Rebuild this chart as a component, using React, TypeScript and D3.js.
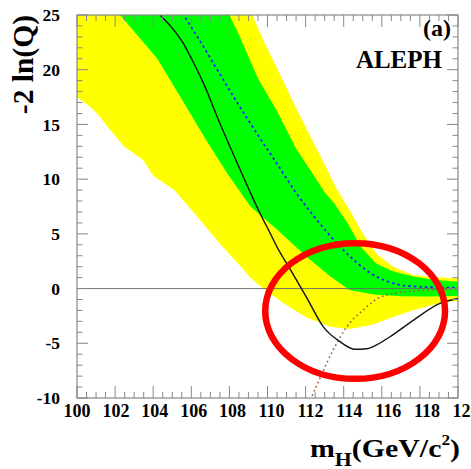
import React from 'react';
import * as d3 from 'd3';

// -2 ln(Q) versus the Higgs mass (a).
// Each series is a list of [mH, -2lnQ] points.
const observed: [number, number][] = [
  [103.5, 26.7], [104.36, 25], [105.0, 23.8], [105.58, 22.4], [106.1, 20.7],
  [106.63, 18.8], [107.5, 15.1], [108.4, 11.5], [109.25, 8.2], [109.6, 6.9],
  [110.13, 5.1], [110.5, 3.8], [111.18, 1.8], [112.05, -0.8], [112.93, -3.5],
  [113.8, -4.85], [114.6, -5.55], [115.2, -5.5], [115.55, -5.3], [116.43, -4.4],
  [117.65, -2.9], [119.05, -1.35], [120, -0.9],
];

const bkgMedian: [number, number][] = [
  [104.5, 28.2], [105.6, 25], [106.5, 22.5], [107.5, 19.6], [108.3, 17.3],
  [109.1, 15.1], [110.5, 11.4], [111.6, 8.5], [112.4, 6.7], [113.2, 5.0],
  [114.0, 3.5], [114.8, 2.2], [115.5, 1.3], [116.3, 0.65], [117.3, 0.25],
  [118.7, 0.12], [120, 0.08],
];

const sigMedian: [number, number][] = [
  [112.1, -11], [112.3, -10], [112.75, -8.2], [113.45, -5.6], [114.16, -3.5],
  [115.03, -1.95], [115.9, -0.8], [117.3, -0.28], [118.7, -0.13], [120, -0.05],
];

// +-1 sigma band (green)
const band1Hi: [number, number][] = [
  [100, 50], [104, 37.5], [108.0, 25], [108.5, 23.2], [109.5, 19.2], [110.5, 16.2],
  [111.5, 12.8], [112.4, 10.4], [113.0, 8.8], [113.45, 7.9], [114.2, 6.0],
  [114.9, 3.8], [115.7, 2.3], [116.6, 1.55], [117.65, 1.1], [118.7, 0.8], [120, 0.63],
];
const band1Lo: [number, number][] = [
  [100, 30], [102.26, 25], [104.2, 21.05], [105.5, 17.3], [106.8, 13.5],
  [107.9, 10.5], [109.1, 7.5], [110.5, 5.4], [112.05, 2.9], [113.3, 1.1],
  [114.3, -0.13], [115.6, -0.55], [117.0, -0.7], [118.5, -0.72], [120, -0.68],
];

// +-2 sigma band (yellow)
const band2Hi: [number, number][] = [
  [100, 56], [105, 42], [109.2, 25], [109.8, 22.6], [110.6, 19.8], [111.5, 16.5],
  [112.4, 13.4], [113.1, 11.0], [113.6, 9.2], [114.3, 7.2], [115.0, 5.05],
  [115.7, 3.2], [116.6, 2.0], [117.65, 1.25], [118.7, 1.03], [120, 0.94],
];
const band2Lo: [number, number][] = [
  [100, 17.5], [100.7, 16.6], [101.1, 15.9], [101.6, 14.8], [102.45, 13.0],
  [103.5, 11.7], [104.0, 10.3], [105.1, 9.0], [106.3, 6.6], [107.5, 4.1],
  [108.5, 2.2], [109.1, 1.0], [109.7, 0.1], [110.8, -1.3], [112.0, -2.6],
  [113.3, -3.5], [114.3, -3.7], [115.5, -3.3], [116.6, -2.6], [117.6, -2.0],
  [119.0, -1.35], [120, -1.1],
];

const xTickLabels = [100, 102, 104, 106, 108, 110, 112, 114, 116, 118, 120];
const yTickLabels = [-10, -5, 0, 5, 10, 15, 20, 25];

// the red ring drawn over the plot, in data units
const ring = { mass: 114.6, value: -2.05, rMass: 4.72, rValue: 6.2 };

const W = 471;
const H = 469;
const margin = { top: 15, right: 13, bottom: 71, left: 77 };
const FONT = '"Liberation Serif", "Times New Roman", serif';
const AXIS = '#888';

export default function App() {
  const x = d3.scaleLinear().domain([100, 120]).range([margin.left, W - margin.right]);
  const y = d3.scaleLinear().domain([-10, 25]).range([H - margin.bottom, margin.top]);
  // the x labels drift a little to the right of their ticks in the original
  const xLabel = d3.scaleLinear().domain([100, 120]).range([margin.left, W - margin.right + 8]);

  const curve = d3
    .line<[number, number]>()
    .x((d) => x(d[0]))
    .y((d) => y(d[1]))
    .curve(d3.curveMonotoneX);
  const straight = d3
    .line<[number, number]>()
    .x((d) => x(d[0]))
    .y((d) => y(d[1]));
  const band = (hi: [number, number][], lo: [number, number][]) =>
    straight([...hi, ...lo.slice().reverse()]) + 'Z';

  const [x0, x1] = x.range();
  const [yb, yt] = y.range();

  const xMinor = d3.range(100, 120.01, 0.5);
  const yMinor = d3.range(-10, 25.01, 1);

  return (
    <svg width={W} height={H} style={{ position: 'absolute', left: 0, top: 0, background: '#fff' }}>
      <defs>
        <clipPath id="plot">
          <rect x={x0} y={yt} width={x1 - x0} height={yb - yt} />
        </clipPath>
      </defs>

      <g clipPath="url(#plot)">
        <path d={band(band2Hi, band2Lo)} fill="#ffff00" />
        <path d={band(band1Hi, band1Lo)} fill="#00ff00" />
        <line x1={x0} x2={x1} y1={y(0)} y2={y(0)} stroke="#666" strokeWidth={0.9} />
        <path d={curve(bkgMedian) || ''} fill="none" stroke="#1a1aff" strokeWidth={1.8} strokeDasharray="2.5,3" />
        <path d={curve(sigMedian) || ''} fill="none" stroke="#a0602a" strokeWidth={1.6} strokeDasharray="1.6,3" />
        <path d={curve(observed) || ''} fill="none" stroke="#111" strokeWidth={1.4} />
      </g>

      {/* frame */}
      <rect x={x0} y={yt} width={x1 - x0} height={yb - yt} fill="none" stroke={AXIS} strokeWidth={1.2} />

      {/* ticks, on all four sides, pointing inwards */}
      {xMinor.map((m) => {
        const major = Math.abs(m % 2) < 1e-6;
        const len = major ? 12 : 6;
        return (
          <g key={'xt' + m} stroke={AXIS} strokeWidth={1}>
            <line x1={x(m)} x2={x(m)} y1={yb} y2={yb - len} />
            <line x1={x(m)} x2={x(m)} y1={yt} y2={yt + len} />
          </g>
        );
      })}
      {yMinor.map((v) => {
        const major = Math.abs(v % 5) < 1e-6;
        const len = major ? 11 : 5.5;
        return (
          <g key={'yt' + v} stroke={AXIS} strokeWidth={1}>
            <line x1={x0} x2={x0 + len} y1={y(v)} y2={y(v)} />
            <line x1={x1} x2={x1 - len} y1={y(v)} y2={y(v)} />
          </g>
        );
      })}

      {/* tick labels */}
      {xTickLabels.map((m) => (
        <text key={'xl' + m} x={xLabel(m)} y={417} textAnchor="middle" fontFamily={FONT} fontWeight="bold" fontSize={18}>
          {m}
        </text>
      ))}
      {yTickLabels.map((v) => (
        <text key={'yl' + v} x={60} y={y(v)} dy="0.35em" textAnchor="end" fontFamily={FONT} fontWeight="bold" fontSize={17.5}>
          {v}
        </text>
      ))}

      {/* axis titles */}
      <text transform="translate(33,15) rotate(-90)" textAnchor="end" fontFamily={FONT} fontWeight="bold" fontSize={29.5}>
        -2 ln(Q)
      </text>
      <g transform="translate(460,457) scale(1.15,1)">
        <text textAnchor="end" fontFamily={FONT} fontWeight="bold" fontSize={26}>
          m
          <tspan fontSize={19} dy={9}>H</tspan>
          <tspan dy={-9}>(GeV/c</tspan>
          <tspan fontSize={15} dy={-12}>2</tspan>
          <tspan dy={12}>)</tspan>
        </text>
      </g>

      <text x={451} y={36} textAnchor="end" fontFamily={FONT} fontWeight="bold" fontSize={24}>
        (a)
      </text>
      <text x={442} y={68} textAnchor="end" fontFamily={FONT} fontWeight="bold" fontSize={25}>
        ALEPH
      </text>

      {/* red ring annotation */}
      <ellipse
        cx={x(ring.mass)}
        cy={y(ring.value)}
        rx={x(ring.mass + ring.rMass) - x(ring.mass)}
        ry={y(ring.value) - y(ring.value + ring.rValue)}
        fill="none"
        stroke="#ff0000"
        strokeWidth={6.5}
      />
    </svg>
  );
}
